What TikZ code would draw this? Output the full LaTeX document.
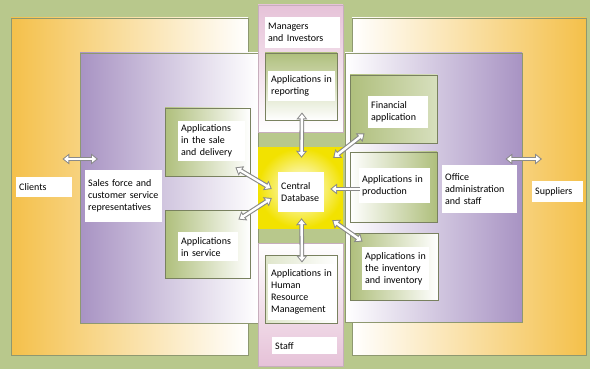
\documentclass[tikz,border=0pt]{standalone}
\usepackage{fontspec}
\setmainfont{Carlito}
\usepackage{tikz}
\usetikzlibrary{arrows.meta,positioning,calc}
\definecolor{bggreen}{HTML}{B8C88C}
\definecolor{edgeolive}{HTML}{8E9870}
\definecolor{clientorange}{HTML}{F4C04A}
\definecolor{staffpurple}{HTML}{A893C3}
\definecolor{ownerpink}{HTML}{E6C2D8}
\definecolor{coreyellow}{HTML}{F2E200}
\definecolor{appgreen}{HTML}{AFBF7C}
\definecolor{arrowgray}{HTML}{8A8A8A}

\begin{document}
\begin{tikzpicture}[x=1pt,y=-1pt,
    font=\fontsize{10}{12}\selectfont,
    frame/.style={draw=edgeolive, line width=0.8pt},
    appbox/.style={draw=edgeolive!85!black, line width=0.8pt, inner sep=0pt},
    txt/.style n args={2}{fill=white, anchor=north west, align=left,
        inner xsep=3pt, inner ysep=2pt, text width=#1, minimum height=#2},
    hollow/.style={draw=arrowgray, line width=4.6pt,
        {Triangle[width=10.5pt,length=7pt]}-{Triangle[width=10.5pt,length=7pt]},
        postaction={draw=white, line width=2.4pt, shorten <=1.7pt, shorten >=1.7pt,
        {Triangle[width=6.6pt,length=4.2pt]}-{Triangle[width=6.6pt,length=4.2pt]}}},
    hollowto/.style={draw=arrowgray, line width=4.6pt, -{Triangle[width=10.5pt,length=7pt]},
        postaction={draw=white, line width=2.4pt, shorten >=1.7pt,
        -{Triangle[width=6.6pt,length=4.2pt]}}}]
  \useasboundingbox (0,0) rectangle (590,369);
  \fill[bggreen] (0,0) rectangle (590,369);                                   % outer band

  % clients and suppliers
  \path[frame, left color=clientorange, right color=white] (11,18) rectangle (248,355);
  \path[frame, left color=white, right color=clientorange] (352,18) rectangle (586,355);

  % staff areas
  \path[frame, left color=staffpurple, right color=white] (80,53) rectangle (258,323);
  \path[frame, left color=white, right color=staffpurple] (345,53) rectangle (522,322);

  % managers column (top) and staff column (bottom)
  \path[draw=ownerpink!70!gray, top color=ownerpink, bottom color=white] (258,5) rectangle (343,132);
  \path[draw=ownerpink!70!gray, top color=white, bottom color=ownerpink] (258,243) rectangle (343,366);

  % central database
  \node[minimum width=85pt, minimum height=80pt, inner sep=0pt,
        inner color=white, outer color=coreyellow] (core) at (300.5,188) {};

  % application boxes
  \node[appbox, minimum width=85pt, minimum height=68pt, left color=appgreen, right color=white] (sale) at (207.5,142) {};
  \node[appbox, minimum width=85pt, minimum height=68pt, left color=appgreen, right color=white] (service) at (207.5,244) {};
  \node[appbox, minimum width=72pt, minimum height=67pt, top color=appgreen, bottom color=white] (reporting) at (301,86.5) {};
  \node[appbox, minimum width=72pt, minimum height=68pt, left color=appgreen!40, right color=white] (hrm) at (301,289) {};
  \node[appbox, minimum width=87pt, minimum height=68pt, left color=appgreen, right color=appgreen!50] (finance) at (393.5,109) {};
  \node[appbox, minimum width=87pt, minimum height=70pt, left color=white, right color=appgreen] (production) at (393.5,187) {};
  \node[appbox, minimum width=88pt, minimum height=67pt, left color=appgreen, right color=white] (inventory) at (394,266.5) {};

  % labels
  \node[txt={69pt}{31pt}] (mgrtxt) at (265,17) {Managers\\and Investors};
  \node[txt={61pt}{30pt}] (reptxt) at (268,71) {Applications in\\reporting};
  \node[txt={61pt}{40pt}] (saletxt) at (178,121) {Applications\\in the sale\\and delivery};
  \node[txt={54pt}{29pt}] (servtxt) at (178,232) {Applications\\in service};
  \node[txt={61pt}{56pt}] (hrmtxt) at (268,264) {Applications in\\Human\\Resource\\Management};
  \node[txt={59pt}{17pt}] (stafftxt) at (272,337) {Staff};
  \node[txt={40pt}{40pt}] (coretxt) at (278,172) {Central\\Database};
  \node[txt={54pt}{32pt}] (fintxt) at (368,96) {Financial\\application};
  \node[txt={65pt}{35pt}] (prodtxt) at (359,168) {Applications in\\production};
  \node[txt={61pt}{43pt}] (invtxt) at (362,247) {Applications in\\the inventory\\and inventory};
  \node[txt={50pt}{20pt}] (clients) at (16,177) {Clients};
  \node[txt={71pt}{52pt}] (salesforce) at (85,170) {Sales force and\\customer service\\representatives};
  \node[txt={69pt}{48pt}] (office) at (442,165) {Office\\administration\\and staff};
  \node[txt={45pt}{21pt}] (suppliers) at (532,181) {Suppliers};

  % data flows
  \draw[hollow] ([shift={(-10,-18)}]clients.north east) -- ([shift={(13,-11)}]salesforce.north west);
  \draw[hollow] ([shift={(-12,-6)}]office.north east) -- ([shift={(10,-22)}]suppliers.north west);
  \draw[hollow] ([shift={(1,-8)}]reporting.south) -- ([shift={(1,10)}]core.north);
  \draw[hollow] ([shift={(1,-10)}]core.south) -- ([shift={(1,8)}]hrm.north);
  \draw[hollow] ([shift={(-15,-9)}]sale.south east) -- ([shift={(14,1)}]core.west);
  \draw[hollow] ([shift={(-12,10)}]service.north east) -- ([shift={(14,10)}]core.west);
  \draw[hollow] ([shift={(-10,10)}]core.north east) -- ([shift={(15,-10)}]finance.south west);
  \draw[hollowto] ([shift={(10,2)}]production.west) -- ([shift={(-13,1)}]core.east);
  \draw[hollow] ([shift={(-11,-8)}]core.south east) -- ([shift={(13,9)}]inventory.north west);
\end{tikzpicture}
\end{document}
